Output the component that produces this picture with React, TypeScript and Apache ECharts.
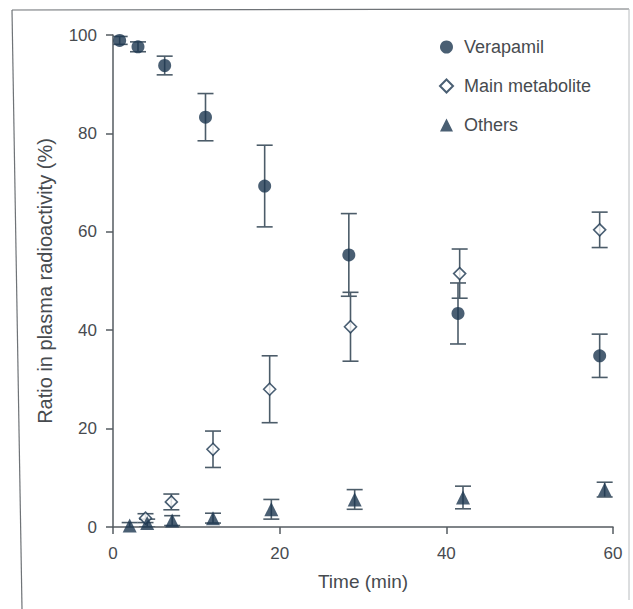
import React, { useEffect, useRef } from "react";
import * as echarts from "echarts";

// Sampling times (min), mean ratios (%) and error half-widths for each fraction
const verapamilTime = [0.8, 3.0, 6.2, 11.1, 18.2, 28.3, 41.4, 58.4];
const verapamilRatio = [98.9, 97.6, 93.8, 83.3, 69.3, 55.3, 43.4, 34.8];
const verapamilErr = [0.8, 1.0, 1.9, 4.8, 8.3, 8.4, 6.2, 4.4];

const metaboliteTime = [3.9, 7.0, 12.0, 18.8, 28.5, 41.6, 58.4];
const metaboliteRatio = [1.8, 5.1, 15.8, 28.0, 40.7, 51.5, 60.4];
const metaboliteErr = [0.9, 1.6, 3.7, 6.8, 7.0, 5.0, 3.6];

const othersTime = [2.0, 4.1, 7.1, 12.0, 19.0, 29.0, 42.0, 59.0];
const othersRatio = [0.3, 0.8, 1.3, 1.8, 3.6, 5.6, 6.0, 7.6];
const othersErr = [0.6, 0.8, 1.0, 1.0, 2.0, 2.0, 2.3, 1.5];

const xTicks = [0, 20, 40, 60];
const yTicks = [0, 20, 40, 60, 80, 100];

const MARK = "#1d3750";
const BAR = "#4c5c69";
const AXIS = "#555b60";
const TEXT = "#474b4f";
const FONT = "'Liberation Sans', Arial, Helvetica, sans-serif";

function errorBars(name: string, t: number[], y: number[], e: number[]) {
  return {
    type: "custom",
    name,
    clip: true,
    silent: true,
    z: 2,
    encode: { x: 0, y: [1, 2] },
    data: t.map((x, i) => [x, y[i] - e[i], y[i] + e[i]]),
    renderItem: (_params: any, api: any) => {
      const x = api.value(0);
      const lo = api.coord([x, api.value(1)]);
      const hi = api.coord([x, api.value(2)]);
      const half = 8;
      const style = { stroke: BAR, lineWidth: 1.6 };
      return {
        type: "group",
        children: [
          { type: "line", shape: { x1: lo[0], y1: lo[1], x2: hi[0], y2: hi[1] }, style },
          { type: "line", shape: { x1: lo[0] - half, y1: lo[1], x2: lo[0] + half, y2: lo[1] }, style },
          { type: "line", shape: { x1: hi[0] - half, y1: hi[1], x2: hi[0] + half, y2: hi[1] }, style },
        ],
      };
    },
  };
}

function points(name: string, t: number[], y: number[], symbol: string, hollow: boolean) {
  return {
    type: "scatter",
    name,
    z: 4,
    symbol,
    symbolSize: symbol === "triangle" ? 14 : symbol === "diamond" ? 12 : 13,
    data: t.map((x, i) => [x, y[i]]),
    itemStyle: hollow
      ? { color: "#ffffff", borderColor: MARK, borderWidth: 1.6 }
      : { color: MARK },
  };
}

export default function App() {
  const ref = useRef<HTMLDivElement>(null);

  useEffect(() => {
    if (!ref.current) return;
    const chart = echarts.init(ref.current, undefined, { renderer: "svg" });
    chart.setOption({
      animation: false,
      backgroundColor: "#ffffff",
      textStyle: { fontFamily: FONT },
      grid: { left: 113, right: 20, top: 35, bottom: 82 },
      legend: {
        orient: "vertical",
        left: 439,
        top: 37,
        padding: 0,
        itemWidth: 13,
        itemHeight: 13,
        itemGap: 19,
        data: ["Verapamil", "Main metabolite", "Others"],
        textStyle: {
          fontSize: 18,
          color: TEXT,
          fontFamily: FONT,
          lineHeight: 20,
          padding: [0, 0, 0, 6],
        },
      },
      xAxis: {
        type: "value",
        min: xTicks[0],
        max: xTicks[xTicks.length - 1],
        interval: 20,
        name: "Time (min)",
        nameLocation: "middle",
        nameGap: 45,
        nameTextStyle: { fontSize: 19, color: TEXT, fontFamily: FONT },
        axisLine: { show: true, onZero: false, lineStyle: { color: AXIS, width: 1.5 } },
        axisTick: { show: true, inside: false, length: 7, lineStyle: { color: AXIS, width: 1.5 } },
        axisLabel: { fontSize: 17, color: TEXT, margin: 18, fontFamily: FONT },
        splitLine: { show: false },
      },
      yAxis: {
        type: "value",
        min: yTicks[0],
        max: yTicks[yTicks.length - 1],
        interval: 20,
        name: "Ratio in plasma radioactivity (%)",
        nameLocation: "middle",
        nameGap: 58,
        nameTextStyle: { fontSize: 20, color: TEXT, fontFamily: FONT },
        axisLine: { show: true, onZero: false, lineStyle: { color: AXIS, width: 1.5 } },
        axisTick: { show: true, inside: false, length: 7, lineStyle: { color: AXIS, width: 1.5 } },
        axisLabel: { fontSize: 17, color: TEXT, margin: 16, fontFamily: FONT },
        splitLine: { show: false },
      },
      graphic: [
        { type: "line", shape: { x1: 12, y1: 10, x2: 629, y2: 9 }, style: { stroke: "#6f7377", lineWidth: 1.2 } },
        { type: "line", shape: { x1: 12, y1: 10, x2: 22, y2: 609 }, style: { stroke: "#6f7377", lineWidth: 1.2 } },
        { type: "line", shape: { x1: 629, y1: 9, x2: 629, y2: 600 }, style: { stroke: "#b8bcbf", lineWidth: 1 } },
      ],
      series: [
        errorBars("Verapamil SD", verapamilTime, verapamilRatio, verapamilErr),
        errorBars("Main metabolite SD", metaboliteTime, metaboliteRatio, metaboliteErr),
        errorBars("Others SD", othersTime, othersRatio, othersErr),
        points("Verapamil", verapamilTime, verapamilRatio, "circle", false),
        points("Main metabolite", metaboliteTime, metaboliteRatio, "diamond", true),
        points("Others", othersTime, othersRatio, "triangle", false),
      ],
    });
    return () => chart.dispose();
  }, []);

  return (
    <div
      ref={ref}
      style={{ position: "absolute", left: 0, top: 0, width: 633, height: 609 }}
    />
  );
}
